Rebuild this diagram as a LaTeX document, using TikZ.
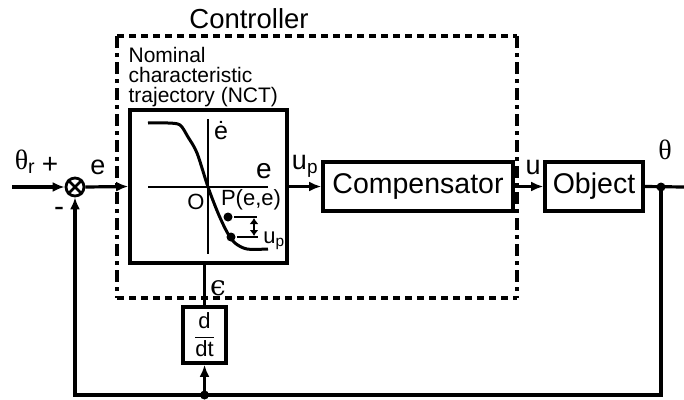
\documentclass[tikz,border=0pt]{standalone}
\usepackage{amsmath}
\usepackage{fontspec}
\setmainfont{Liberation Sans}
\newfontfamily\serifgr{Liberation Serif}
\newfontfamily\djs{DejaVu Serif}
\usetikzlibrary{arrows.meta}
\newcommand\myfs[1]{\fontsize{#1}{#1}\selectfont}
\tikzset{
  blk/.style={draw, line width=3.6pt, minimum height=49pt, inner sep=0pt, font=\myfs{28.5}},
  arr/.style={-{Latex[length=12pt,width=10pt]}},
  lbl/.style={inner sep=0pt, font=\myfs{27}},
  ilbl/.style={inner sep=0pt, font=\myfs{22}},
  dotc/.style={circle, fill, inner sep=0pt, minimum size=9pt},
  ctrlh/.style={line width=3.2pt, dash pattern=on 7pt off 5pt},
  ctrlv/.style={line width=3.2pt, dash pattern=on 12pt off 5pt on 4pt off 5pt},
}
\begin{document}
\begin{tikzpicture}[x=1pt,y=-1pt,line width=3.2pt]
\useasboundingbox (0,0) rectangle (684,399);
% controller dashed frame
\draw[ctrlh] (117,36) -- (517,36);
\draw[ctrlh] (117,298) -- (517,298);
\draw[ctrlv] (117,36) -- (117,298);
\draw[ctrlv] (517,36) -- (517,298);
\node[inner sep=0pt, font=\myfs{27.5}] (ctl) at (249,19) {Controller};
\node[inner sep=0pt, font=\myfs{21}, align=left, anchor=north west] (nctlbl) at (127,46)
  {Nominal\\[-1pt]characteristic\\[-1pt]trajectory (NCT)};
% blocks
\node[draw, line width=3.6pt, minimum width=157pt, minimum height=153pt, inner sep=0pt] (nct) at (208.5,186.5) {};
\node[blk, minimum width=190pt] (comp) at (418,186.5) {Compensator};
\node[blk, minimum width=98pt] (obj) at (594,186.5) {Object};
\node[draw, line width=3.6pt, minimum width=43pt, minimum height=56pt, inner sep=0pt, font=\myfs{22}] (ddt) at (204.5,335) {$\dfrac{\text{d}}{\text{dt}}$};
\node[circle, draw, line width=2.8pt, minimum size=18pt, inner sep=0pt] (sum) at (75,187) {};
\draw[line width=2.8pt] (sum.north west) -- (sum.south east) (sum.north east) -- (sum.south west);
% NCT graph
\draw[line width=2pt] (148,187) -- (268,187);
\draw[line width=2pt] (208,119) -- (208,254);
\draw[line width=3pt] plot[smooth, tension=0.5] coordinates {(148,123) (168,123) (180,125) (188,137) (197,153) (208,187) (218,213) (227,232) (235,243) (247,249) (268,249)};
\node[dotc] (p1) at (228,217) {};
\node[dotc] (p2) at (231,237) {};
\coordinate (p1e) at (257,217);
\coordinate (p2e) at (258,237);
\draw[line width=2.4pt] (p1) -- (p1e);
\draw[line width=2.4pt] (p2) -- (p2e);
\coordinate (da) at (254,218);
\coordinate (db) at (254,236);
\draw[line width=2.2pt, {Latex[length=6pt,width=9pt]}-{Latex[length=6pt,width=9pt]}] (da) -- (db);
\node[inner sep=0pt, font=\myfs{28}] (le) at (264,171) {e};
\node[inner sep=0pt, font=\myfs{25}] (led) at (221,131) {ė};
\node[ilbl] (lo) at (196,202) {O};
\node[ilbl] (lp) at (251,200) {P(e,e)};
\node[ilbl] (lup) at (274,241) {u\textsubscript{p}};
% signal connectors
\coordinate (in) at (12,187);
\coordinate (out) at (684,187);
\node[dotc] (tap) at (661,187) {};
\node[dotc] (dtap) at (204.5,395) {};
\coordinate (brc) at (661,395);
\coordinate (blc) at (75,395);
\draw[arr] (in) -- (sum.west);
\draw[arr] (sum.east) -- (nct.west);
\draw[arr] (nct.east) -- (comp.west);
\draw[arr] (comp.east) -- (obj.west);
\draw (obj.east) -- (out);
\draw[arr] (tap.center) -- (brc) -- (blc) -- (sum.south);
\draw (ddt.north) -- (ddt.north |- nct.south);
\draw[arr] (dtap.center) -- (ddt.south);
% labels
\node[inner sep=0pt, font=\myfs{28}] (lthr) at (25,162) {{\serifgr θ}\textsubscript{r}};
\node[inner sep=0pt, font=\myfs{28}] (lplus) at (50,165) {+};
\node[inner sep=0pt, font=\myfs{30}] (lminus) at (59,212) {-};
\node[lbl] (le2) at (98,167) {e};
\node[lbl] (lup2) at (305,166) {u\textsubscript{p}};
\node[lbl] (lu) at (533,167) {u};
\node[inner sep=0pt, font=\myfs{28}] (lth) at (665,150) {\serifgr θ};
\node[inner sep=0pt, font=\myfs{28}] (leps) at (218,288) {\djs ϵ};
\end{tikzpicture}
\end{document}
